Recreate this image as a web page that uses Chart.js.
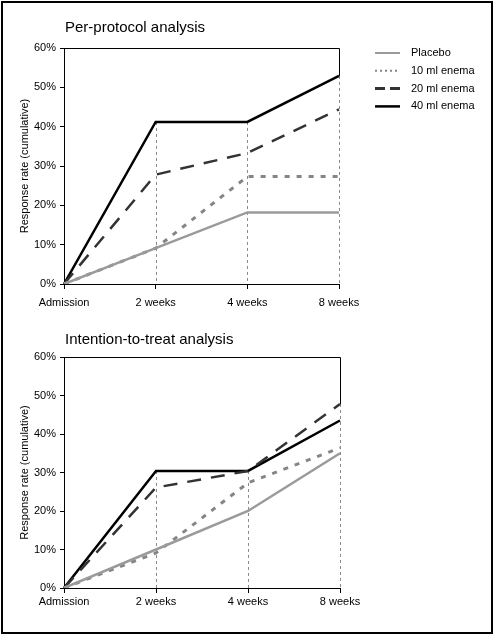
<!DOCTYPE html>
<html>
<head>
<meta charset="utf-8">
<script src="https://cdn.jsdelivr.net/npm/chart.js@4.4.0/dist/chart.umd.min.js"></script>
<style>
body{margin:0;background:#fff;}
#frame{position:absolute;left:1px;top:1px;width:492px;height:633px;box-sizing:border-box;border:2px solid #000;}
#pp{position:absolute;left:0;top:0;}
#itt{position:absolute;left:0;top:310px;}
</style>
</head>
<body>
<div id="frame"></div>
<canvas id="pp" width="493" height="310"></canvas>
<canvas id="itt" width="493" height="324"></canvas>
<script>
const timepoints = ['Admission', '2 weeks', '4 weeks', '8 weeks'];
const seriesNames = ['Placebo', '10 ml enema', '20 ml enema', '40 ml enema'];

// per-protocol, % responders (cumulative)
const ppPlacebo = [0, 9.1, 18.2, 18.2];
const pp10ml = [0, 9.1, 27.3, 27.3];
const pp20ml = [0, 27.8, 33.3, 44.4];
const pp40ml = [0, 41.2, 41.2, 52.9];

// intention-to-treat
const ittPlacebo = [0, 10, 20, 35];
const itt10ml = [0, 9.1, 27.3, 36.4];
const itt20ml = [0, 26.1, 30.4, 47.8];
const itt40ml = [0, 30.4, 30.4, 43.5];

const yMin = 0, yMax = 60, yStep = 10;

const FONT = "'Liberation Sans', Arial, sans-serif";
const styles = [
    {borderColor:'#9a9a9a', borderWidth:2.5, borderDash:[], legendDash:[], legendWidth:2},
    {borderColor:'#858585', borderWidth:3, borderDash:[5,7], legendDash:[2,3], legendWidth:2},
    {borderColor:'#333333', borderWidth:2.5, borderDash:[14,10], legendDash:[10,5], legendWidth:3},
    {borderColor:'#000000', borderWidth:2.5, borderDash:[], legendDash:[], legendWidth:2.5}
];

const deco = {
    id:'deco',
    beforeDatasetsDraw(chart){
        const {ctx, chartArea:a, scales:{x, y}} = chart;
        const n = chart.data.labels.length;
        const top = i => Math.max(...chart.data.datasets.map(d => d.data[i]));
        ctx.save();
        // drop lines
        ctx.strokeStyle = '#8a8a8a';
        ctx.lineWidth = 1;
        ctx.setLineDash([3,3]);
        for(let i=1;i<n;i++){
            const px = Math.round(x.getPixelForValue(i)) + 0.5;
            ctx.beginPath();
            ctx.moveTo(px, y.getPixelForValue(top(i)));
            ctx.lineTo(px, a.bottom);
            ctx.stroke();
        }
        // plot frame (top + right)
        ctx.setLineDash([]);
        ctx.strokeStyle = '#000';
        ctx.beginPath();
        ctx.moveTo(a.left, a.top + 0.5);
        ctx.lineTo(a.right + 0.5, a.top + 0.5);
        ctx.lineTo(a.right + 0.5, y.getPixelForValue(top(n-1)));
        ctx.stroke();
        ctx.restore();
    },
    afterDraw(chart, args, opts){
        const ctx = chart.ctx;
        ctx.save();
        ctx.fillStyle = '#000';
        ctx.font = '15px ' + FONT;
        ctx.textBaseline = 'alphabetic';
        ctx.fillText(opts.title, 65, opts.titleY);
        if(opts.legend){
            ctx.font = '11px ' + FONT;
            ctx.textBaseline = 'middle';
            chart.data.datasets.forEach((d, i) => {
                const ly = 53 + i*17.8;
                ctx.strokeStyle = d.borderColor;
                ctx.lineWidth = d.legendWidth;
                ctx.setLineDash(d.legendDash);
                ctx.beginPath();
                ctx.moveTo(375, ly);
                ctx.lineTo(400, ly);
                ctx.stroke();
                ctx.fillText(d.label, 411, ly);
            });
        }
        ctx.restore();
    }
};

function makeChart(id, series, title, titleY, legend, pad, xHeight, xPad){
    return new Chart(document.getElementById(id), {
        type:'line',
        data:{
            labels:timepoints,
            datasets:series.map((s, i) => Object.assign({
                label:seriesNames[i],
                data:s,
                tension:0,
                pointRadius:0,
                fill:false
            }, styles[i]))
        },
        options:{
            responsive:false,
            animation:false,
            layout:{padding:pad},
            plugins:{
                legend:{display:false},
                tooltip:{enabled:false},
                deco:{title:title, titleY:titleY, legend:legend}
            },
            scales:{
                x:{
                    offset:false,
                    grid:{drawOnChartArea:false, tickLength:5, color:'#000'},
                    border:{color:'#000'},
                    ticks:{color:'#000', font:{size:11, family:FONT}, padding:xPad, maxRotation:0, autoSkip:false},
                    afterFit(s){ s.height = xHeight; }
                },
                y:{
                    min:yMin, max:yMax,
                    grid:{drawOnChartArea:false, tickLength:4, color:'#000'},
                    border:{color:'#000'},
                    ticks:{stepSize:yStep, color:'#000', font:{size:11, family:FONT}, padding:4, callback:v => v + '%'},
                    title:{display:true, text:'Response rate (cumulative)', color:'#000', font:{size:11, family:FONT}, padding:{top:18, bottom:0}},
                    afterFit(s){ s.width = 64; }
                }
            }
        },
        plugins:[deco]
    });
}

makeChart('pp', [ppPlacebo, pp10ml, pp20ml, pp40ml], 'Per-protocol analysis', 32, true,
    {top:48, right:154, left:0, bottom:0}, 26, 7);
makeChart('itt', [ittPlacebo, itt10ml, itt20ml, itt40ml], 'Intention-to-treat analysis', 34, false,
    {top:47, right:153, left:0, bottom:0}, 46, 2);
</script>
</body>
</html>
